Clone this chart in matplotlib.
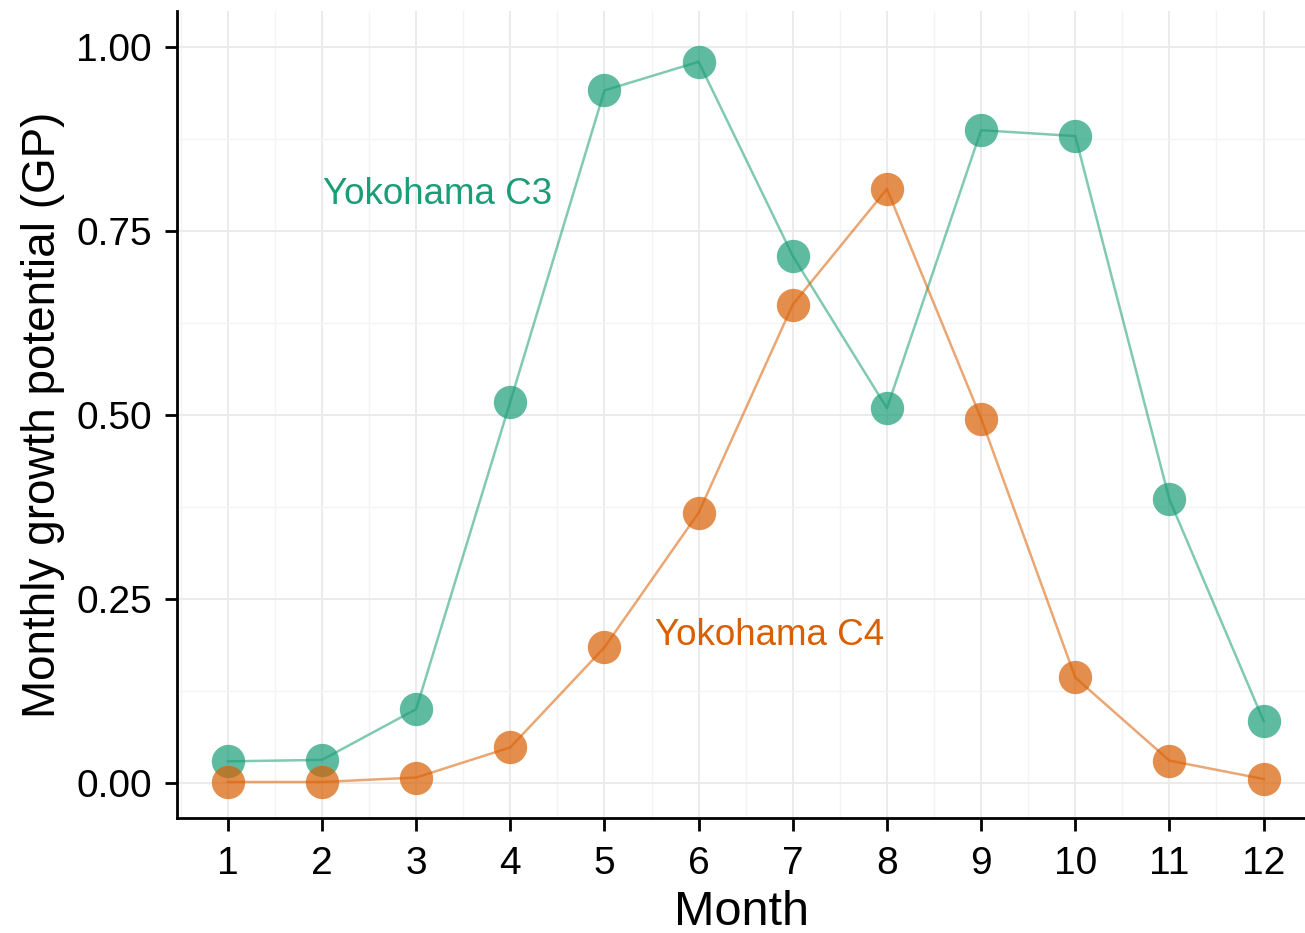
import matplotlib
matplotlib.use("Agg")
import matplotlib.pyplot as plt
import numpy as np
from matplotlib.ticker import MultipleLocator

plt.rcParams['font.family'] = ['Liberation Sans', 'DejaVu Sans']

# Données
months = list(range(1, 13))
c3 = [0.029, 0.031, 0.100, 0.518, 0.941, 0.980, 0.716, 0.509, 0.887, 0.879, 0.385, 0.084]
c4 = [0.001, 0.001, 0.007, 0.048, 0.184, 0.367, 0.650, 0.807, 0.495, 0.143, 0.030, 0.005]
yticks = [0.00, 0.25, 0.50, 0.75, 1.00]
ytick_labels = ["0.00", "0.25", "0.50", "0.75", "1.00"]

green = "#1B9E77"
orange = "#D95F02"

fig = plt.figure(figsize=(13.05, 9.33), dpi=100)
ax = fig.add_axes([177 / 1305, 1 - 818 / 933, (1305 - 177) / 1305, (818 - 11) / 933])

# les lignes puis les points
ax.plot(months, c3, color=green, alpha=0.55, linewidth=1.8, zorder=3)
ax.plot(months, c4, color=orange, alpha=0.55, linewidth=1.8, zorder=3)
ax.plot(months, c3, "o", color=green, alpha=0.7, markersize=24, markeredgewidth=0, zorder=4)
ax.plot(months, c4, "o", color=orange, alpha=0.7, markersize=24, markeredgewidth=0, zorder=4)

ax.text(3.23, 0.80, "Yokohama C3", color=green, fontsize=26.5, ha="center", va="center")
ax.text(6.75, 0.20, "Yokohama C4", color=orange, fontsize=26.5, ha="center", va="center")

ax.set_xlim(0.46, 12.44)
ax.set_ylim(-0.048, 1.049)
ax.set_xticks(months)
ax.set_yticks(yticks)
ax.set_yticklabels(ytick_labels)
ax.xaxis.set_minor_locator(MultipleLocator(0.5))
ax.yaxis.set_minor_locator(MultipleLocator(0.125))

ax.grid(which="major", color="#EBEBEB", linewidth=1.4, zorder=0)
ax.grid(which="minor", color="#F4F4F4", linewidth=1.0, zorder=0)
ax.set_axisbelow(True)

for s in ["top", "right"]:
    ax.spines[s].set_visible(False)
for s in ["left", "bottom"]:
    ax.spines[s].set_linewidth(2.0)

ax.tick_params(which="major", length=9, width=2.0, labelsize=28)
ax.tick_params(axis="x", which="major", pad=11)
ax.tick_params(axis="y", which="major", pad=9)
ax.tick_params(which="minor", length=0)

ax.set_xlabel("Month", fontsize=35, labelpad=6)
ax.set_ylabel("Monthly growth potential (GP)", fontsize=33, labelpad=8)

plt.savefig("out.png", dpi=100)
